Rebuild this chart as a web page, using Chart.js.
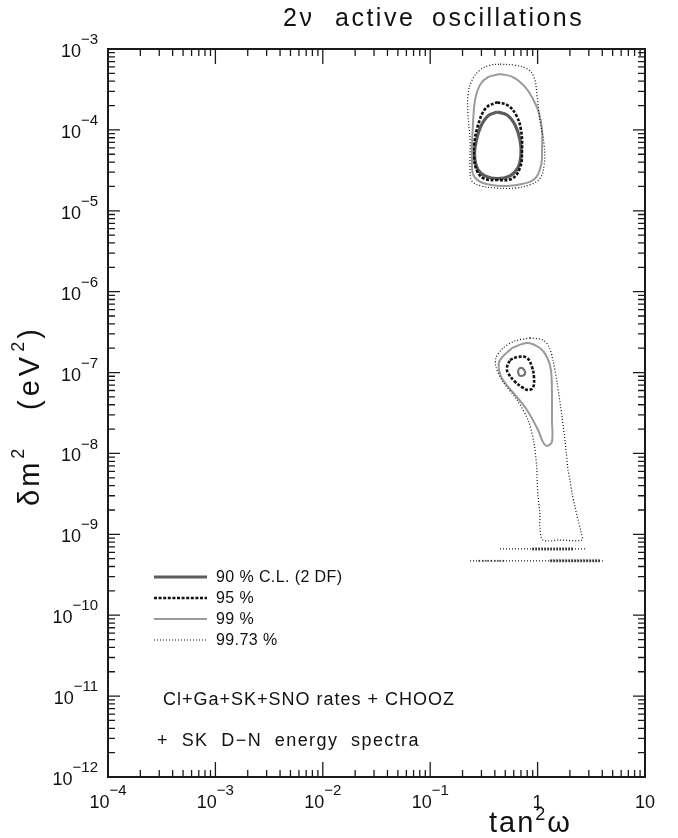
<!DOCTYPE html>
<html>
<head>
<meta charset="utf-8">
<script src="https://cdn.jsdelivr.net/npm/chart.js@4.4.1/dist/chart.umd.min.js"></script>
<style>
  html, body { margin: 0; padding: 0; background: #fff; }
  canvas { display: block; }
</style>
</head>
<body>
<canvas id="oscChart" width="678" height="838"></canvas>
<script>
// contour points, [tan^2 w, dm^2 (eV^2)]
const lma90 = [[0.42,1.66e-4],[0.52,1.53e-4],[0.617,1.15e-4],[0.686,7.5e-5],[0.70,4.9e-5],[0.656,3.4e-5],
  [0.553,2.7e-5],[0.42,2.5e-5],[0.324,2.7e-5],[0.279,3.2e-5],[0.261,4.25e-5],[0.261,6.0e-5],[0.291,1.05e-4],
  [0.345,1.49e-4],[0.42,1.66e-4]];
const lma95 = [[0.42,2.2e-4],[0.53,2.0e-4],[0.63,1.53e-4],[0.70,1.0e-4],[0.716,5.6e-5],[0.686,3.4e-5],
  [0.578,2.5e-5],[0.42,2.4e-5],[0.317,2.5e-5],[0.273,3.1e-5],[0.256,4.5e-5],[0.256,6.5e-5],[0.279,1.15e-4],
  [0.331,1.87e-4],[0.42,2.2e-4]];
const lma99 = [[0.447,4.9e-4],[0.59,4.5e-4],[0.764,3.4e-4],[0.906,2.41e-4],[1.03,1.62e-4],[1.10,1.0e-4],
  [1.10,6.1e-5],[1.08,3.7e-5],[0.946,2.5e-5],[0.716,2.14e-5],[0.519,2.03e-5],[0.361,2.1e-5],[0.285,2.33e-5],
  [0.25,2.85e-5],[0.245,4.25e-5],[0.245,6.5e-5],[0.25,1.15e-4],[0.261,2.3e-4],[0.291,3.6e-4],[0.345,4.5e-4],
  [0.447,4.9e-4]];
const lma9973 = [[0.447,6.5e-4],[0.617,6.3e-4],[0.796,5.7e-4],[0.925,4.5e-4],[0.986,2.7e-4],[1.05,1.33e-4],
  [1.15,6.5e-5],[1.15,3.7e-5],[1.05,2.5e-5],[0.849,2.1e-5],[0.617,1.91e-5],[0.42,1.91e-5],[0.297,2.03e-5],
  [0.245,2.33e-5],[0.235,3.2e-5],[0.235,7.5e-5],[0.225,1.53e-4],[0.225,2.7e-4],[0.245,4.1e-4],[0.291,5.5e-4],
  [0.361,6.3e-4],[0.447,6.5e-4]];

const low90 = [[0.656,1.08e-7],[0.70,1.14e-7],[0.75,1.08e-7],[0.764,9.6e-8],[0.716,9.1e-8],[0.671,9.3e-8],[0.656,1.08e-7]];
const low95 = [[0.553,1.43e-7],[0.656,1.56e-7],[0.796,1.52e-7],[0.887,1.17e-7],[0.925,8.8e-8],[0.906,6.5e-8],
  [0.814,6.1e-8],[0.716,6.6e-8],[0.617,7.7e-8],[0.53,9.9e-8],[0.519,1.17e-7],[0.553,1.43e-7]];
const low99 = [[0.578,2.01e-7],[0.796,2.32e-7],[1.05,2.01e-7],[1.22,1.56e-7],[1.33,1.08e-7],[1.36,5.6e-8],
  [1.36,2.6e-8],[1.36,1.39e-8],[1.22,1.24e-8],[1.12,1.39e-8],[1.01,1.95e-8],[0.796,3.45e-8],[0.617,5.3e-8],
  [0.476,8.1e-8],[0.437,1.08e-7],[0.447,1.43e-7],[0.578,2.01e-7]];
const low9973 = [[0.849,2.68e-7],[1.12,2.53e-7],[1.28,2.07e-7],[1.39,1.43e-7],[1.52,7.4e-8],[1.69,2.8e-8],
  [1.84,1.10e-8],[1.92,6.25e-9],[2.00,4.7e-9],[2.09,3.25e-9],[2.23,2.18e-9],[2.38,1.51e-9],[2.54,1.07e-9],
  [2.59,8.5e-10],[1.62,8.5e-10],[1.12,8.5e-10],[1.05,1.23e-9],[1.05,1.84e-9],[1.01,2.9e-9],[0.986,5.1e-9],
  [0.986,6.25e-9],[0.925,1.35e-8],[0.814,2.6e-8],[0.643,4.6e-8],[0.476,7.7e-8],[0.41,1.17e-7],[0.41,1.52e-7],
  [0.476,2.01e-7],[0.617,2.46e-7],[0.849,2.68e-7]];

// thin islands near dm^2 ~ 5e-10
const band1 = [[0.447,6.6e-10],[2.88,6.6e-10]];
const band1Core = [[0.887,6.6e-10],[2.14,6.6e-10]];
const band2 = [[0.235,4.7e-10],[4.06,4.7e-10]];
const band2Core = [[1.30,4.7e-10],[3.81,4.7e-10]];
const band2Left = [[0.28,4.7e-10],[0.50,4.7e-10]];

const xTickExps = [-4, -3, -2, -1, 0, 1];
const xTickLabels = [['10','\u22124'],['10','\u22123'],['10','\u22122'],['10','\u22121'],['1',''],['10','']];
const yTickExps = [-12, -11, -10, -9, -8, -7, -6, -5, -4, -3];
const legendLabels = ['90 % C.L. (2 DF)', '95 %', '99 %', '99.73 %'];

const styles = {
  cl90:   { color: '#5c5c5c', width: 3.2, dash: [] },
  cl95:   { color: '#111111', width: 2.6, dash: [3, 1.6] },
  cl99:   { color: '#9a9a9a', width: 2, dash: [] },
  cl9973: { color: '#111111', width: 1.2, dash: [1, 2] }
};
const legendStyles = [styles.cl90, styles.cl95, styles.cl99, styles.cl9973];

function pts(arr) { return arr.map(p => ({ x: p[0], y: p[1] })); }

function contour(arr, st, tension) {
  return {
    data: pts(arr),
    showLine: true,
    borderColor: st.color,
    borderWidth: st.width,
    borderDash: st.dash,
    tension: tension,
    fill: false,
    pointRadius: 0
  };
}

const datasets = [
  contour(lma9973, styles.cl9973, 0.4),
  contour(lma99, styles.cl99, 0.4),
  contour(lma95, styles.cl95, 0.4),
  contour(lma90, styles.cl90, 0.4),
  contour(low9973, styles.cl9973, 0.3),
  contour(low99, styles.cl99, 0.35),
  contour(low95, styles.cl95, 0.4),
  contour(low90, { color: '#777', width: 2.2, dash: [] }, 0.4),
  contour(band1, styles.cl9973, 0),
  contour(band2, styles.cl9973, 0),
  contour(band1Core, { color: '#666', width: 3, dash: [2, 1] }, 0),
  contour(band2Core, { color: '#666', width: 3, dash: [2, 1] }, 0),
  contour(band2Left, { color: '#888', width: 2, dash: [2, 2] }, 0)
];

// ticks on all four sides, pointing inward, plus frame
const axesFrame = {
  id: 'axesFrame',
  afterDatasetsDraw(chart) {
    const { ctx, chartArea: a, scales } = chart;
    const xs = scales.x, ys = scales.y;
    ctx.save();
    ctx.strokeStyle = '#1a1a1a';
    ctx.lineWidth = 1.3;
    ctx.beginPath();
    for (let d = -4; d <= 0; d++) {
      for (let k = 1; k <= 9; k++) {
        const px = xs.getPixelForValue(k * Math.pow(10, d));
        const len = k === 1 ? 15 : 7;
        ctx.moveTo(px, a.bottom); ctx.lineTo(px, a.bottom - len);
        ctx.moveTo(px, a.top); ctx.lineTo(px, a.top + len);
      }
    }
    for (let d = -12; d <= -4; d++) {
      for (let k = 1; k <= 9; k++) {
        const py = ys.getPixelForValue(k * Math.pow(10, d));
        const len = k === 1 ? 12 : 7;
        ctx.moveTo(a.left, py); ctx.lineTo(a.left + len, py);
        ctx.moveTo(a.right, py); ctx.lineTo(a.right - len, py);
      }
    }
    ctx.stroke();
    ctx.lineWidth = 2;
    ctx.strokeRect(a.left, a.top, a.right - a.left, a.bottom - a.top);

    // tick labels
    ctx.fillStyle = '#111';
    ctx.textBaseline = 'middle';
    ctx.textAlign = 'left';
    const baseFont = '18px "Liberation Sans", Arial, sans-serif';
    const supFont = '15px "Liberation Sans", Arial, sans-serif';
    yTickExps.forEach(e => {
      const py = ys.getPixelForValue(Math.pow(10, e));
      const sup = '\u2212' + Math.abs(e);
      ctx.font = supFont; const sw = ctx.measureText(sup).width;
      ctx.font = baseFont; const bw = ctx.measureText('10').width;
      const right = a.left - 10;
      ctx.fillText('10', right - sw - bw, py + 3);
      ctx.font = supFont; ctx.fillText(sup, right - sw, py - 9);
    });
    xTickExps.forEach((e, i) => {
      const px = xs.getPixelForValue(Math.pow(10, e));
      const [base, sup] = xTickLabels[i];
      ctx.font = baseFont; const bw = ctx.measureText(base).width;
      ctx.font = supFont; const sw = sup ? ctx.measureText(sup).width : 0;
      const left = px - (bw + sw) / 2;
      ctx.font = baseFont; ctx.fillText(base, left, a.bottom + 26);
      if (sup) { ctx.font = supFont; ctx.fillText(sup, left + bw, a.bottom + 14); }
    });
    ctx.restore();
  }
};

function spaced(ctx, text, x, y, spacing) {
  ctx.letterSpacing = spacing + 'px';
  ctx.fillText(text, x, y);
  const w = ctx.measureText(text).width;
  ctx.letterSpacing = '0px';
  return w;
}

// titles, legend and run description
const annotations = {
  id: 'annotations',
  afterDraw(chart) {
    const { ctx } = chart;
    ctx.save();
    ctx.fillStyle = '#111';
    ctx.textBaseline = 'middle';
    ctx.textAlign = 'left';

    ctx.font = '25px "Liberation Sans", Arial, sans-serif';
    spaced(ctx, '2\u03bd', 283, 19, 2.5);
    spaced(ctx, 'active', 335, 19, 2.5);
    spaced(ctx, 'oscillations', 432, 19, 2.5);

    // x axis title
    const big = '29px "Liberation Sans", Arial, sans-serif';
    const small = '18px "Liberation Sans", Arial, sans-serif';
    ctx.font = big;
    let x = 489;
    x += spaced(ctx, 'tan', x, 824, 2);
    ctx.font = small;
    x += spaced(ctx, '2', x, 815, 0);
    ctx.font = big;
    spaced(ctx, '\u03c9', x + 2, 824, 0);

    // y axis title
    ctx.save();
    ctx.translate(31, 506);
    ctx.rotate(-Math.PI / 2);
    ctx.font = big;
    let y = 0;
    y += spaced(ctx, '\u03b4m', y, 0, 3);
    ctx.font = small;
    spaced(ctx, '2', y + 1, -12, 0);
    ctx.font = big;
    y = 96;
    y += spaced(ctx, '(eV', y, 0, 4);
    ctx.font = small;
    y += spaced(ctx, '2', y + 1, -12, 0);
    ctx.font = big;
    spaced(ctx, ')', y + 4, 0, 0);
    ctx.restore();

    // legend
    ctx.font = '16px "Liberation Sans", Arial, sans-serif';
    legendLabels.forEach((lab, i) => {
      const st = legendStyles[i];
      const ly = 577 + i * 21;
      ctx.save();
      ctx.strokeStyle = st.color;
      ctx.lineWidth = st.width;
      ctx.setLineDash(st.dash);
      ctx.beginPath();
      ctx.moveTo(154, ly);
      ctx.lineTo(207, ly);
      ctx.stroke();
      ctx.restore();
      spaced(ctx, lab, 216, ly + 1, 0.4);
    });

    ctx.font = '18px "Liberation Sans", Arial, sans-serif';
    spaced(ctx, 'Cl+Ga+SK+SNO rates + CHOOZ', 163, 700, 1);
    spaced(ctx, '+  SK  D\u2212N  energy  spectra', 157, 741, 1.4);
    ctx.restore();
  }
};

const ctx = document.getElementById('oscChart').getContext('2d');
new Chart(ctx, {
  type: 'scatter',
  data: { datasets: datasets },
  options: {
    responsive: false,
    animation: false,
    layout: { padding: { left: 108, right: 33, top: 49, bottom: 61 } },
    scales: {
      x: { type: 'logarithmic', min: 1e-4, max: 10, display: false },
      y: { type: 'logarithmic', min: 1e-12, max: 1e-3, display: false }
    },
    plugins: {
      legend: { display: false },
      tooltip: { enabled: false }
    },
    elements: { point: { radius: 0 } }
  },
  plugins: [axesFrame, annotations]
});
</script>
</body>
</html>
